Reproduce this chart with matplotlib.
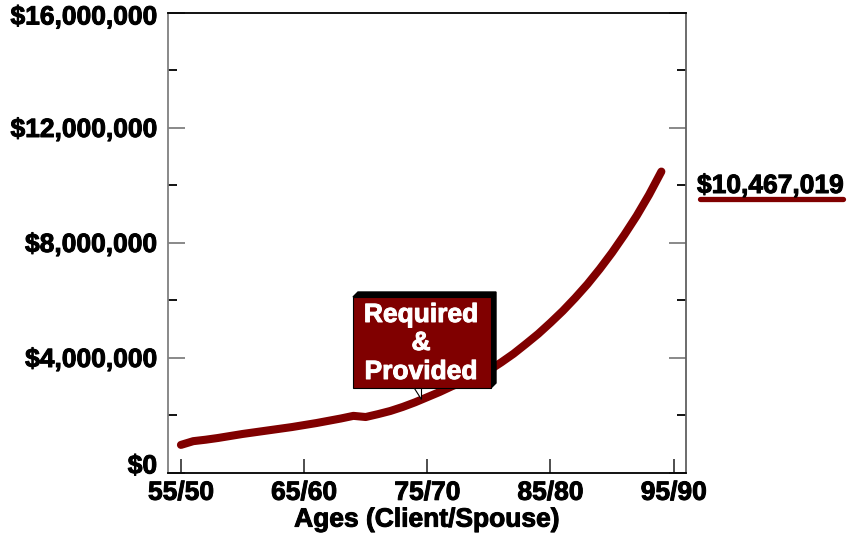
import matplotlib
matplotlib.use("Agg")
import matplotlib.pyplot as plt
import matplotlib.patheffects as pe
from matplotlib.patches import Polygon, Rectangle
from matplotlib.lines import Line2D
from matplotlib.ticker import FuncFormatter, MultipleLocator
from matplotlib.transforms import ScaledTranslation

plt.rcParams['font.family'] = ['Liberation Sans', 'DejaVu Sans']
plt.rcParams['font.weight'] = 'bold'

# eta del cliente (anno per anno) e capitale in milioni
eta = list(range(55, 95))
valori = [0.96, 1.09, 1.14, 1.20, 1.27, 1.34, 1.40, 1.46, 1.52, 1.58,
          1.65, 1.72, 1.80, 1.88, 1.97, 1.93, 2.03, 2.14, 2.28, 2.44,
          2.62, 2.80, 3.00, 3.17, 3.36, 3.55, 3.83, 4.13, 4.47, 4.82,
          5.21, 5.62, 6.07, 6.55, 7.08, 7.65, 8.27, 8.93, 9.66, 10.467]
tick_eta = [55, 65, 75, 85, 95]
tick_label = ["55/50", "65/60", "75/70", "85/80", "95/90"]
valore_finale = "$10,467,019"
rosso = "#800000"

W, H = 855, 534
fig = plt.figure(figsize=(W / 100, H / 100), dpi=100)
ax = fig.add_axes([168 / W, 1 - 472.5 / H, (686 - 168) / W, (472.5 - 12.5) / H])

# testo un po' piu' marcato
spesso = [pe.withStroke(linewidth=0.7, foreground='black')]
spesso_bianco = [pe.withStroke(linewidth=0.7, foreground='white')]

# curva del capitale
ax.plot(eta, [v * 1e6 for v in valori], color=rosso, lw=5.8,
        solid_capstyle='round', solid_joinstyle='round')

ax.set_xlim(53.95, 96.0)
ax.set_ylim(0, 16e6)
ax.set_xticks(tick_eta)
ax.set_xticklabels(tick_label)
ax.yaxis.set_major_locator(MultipleLocator(4e6))
ax.yaxis.set_minor_locator(MultipleLocator(2e6))


def fmt(v, p):
    # 0 e 16M vengono scritti a parte, spostati verso l'interno
    if v <= 0 or v >= 16e6:
        return ""
    return f"${v:,.0f}"


ax.yaxis.set_major_formatter(FuncFormatter(fmt))

# spine e tacche
ax.spines['left'].set_color('#808080')
ax.spines['right'].set_color('#606060')
ax.spines['top'].set_color('black')
ax.spines['bottom'].set_color('black')
for s in ax.spines.values():
    s.set_linewidth(1.3)
ax.tick_params(axis='y', which='major', direction='in', length=12, width=1.3,
               color='#808080', right=True, labelsize=19, pad=8)
ax.tick_params(axis='y', which='minor', direction='in', length=6.5, width=1.3,
               color='black', right=True)
ax.tick_params(axis='x', which='major', direction='in', length=10, width=1.3,
               color='#404040', labelsize=19, pad=6)
ax.set_xlabel("Ages (Client/Spouse)", fontsize=19, fontweight='bold', labelpad=2,
              path_effects=spesso)

for lab in ax.get_xticklabels() + ax.get_yticklabels():
    lab.set_path_effects(spesso)

ytr = ax.get_yaxis_transform()
for v, dy in [(0, 6), (16e6, -5)]:
    tr = ytr + ScaledTranslation(-11 / 100, dy / 100, fig.dpi_scale_trans)
    ax.text(0, v, f"${v:,.0f}", transform=tr, fontsize=19, fontweight='bold',
            ha='right', va='center', path_effects=spesso, clip_on=False)


def px(x, y):
    return (x / W, 1 - y / H)


# riquadro "Required & Provided" con ombra 3D
ombra = Polygon([px(353, 297), px(358, 292), px(496, 292), px(496, 383),
                 px(491, 388), px(491, 297)], closed=True,
                facecolor='black', edgecolor='black', transform=fig.transFigure)
fig.patches.append(ombra)
x0, y0 = px(353, 388)
x1, y1 = px(491, 297)
fig.patches.append(Rectangle((x0, y0), x1 - x0, y1 - y0, facecolor=rosso,
                             edgecolor='black', lw=0.8, transform=fig.transFigure))
fig.patches.append(Polygon([px(414, 388), px(421, 388), px(421, 399)], closed=True,
                           facecolor='white', edgecolor='black', lw=0.8,
                           transform=fig.transFigure))
for testo, yy in [("Required", 315), ("&", 343), ("Provided", 372)]:
    fig.text(*px(421, yy), testo, color='white', fontsize=19, fontweight='bold',
             ha='center', va='center', path_effects=spesso_bianco)

# valore finale a destra
fig.text(*px(697, 186), valore_finale, fontsize=19, fontweight='bold',
         ha='left', va='center', path_effects=spesso)
fig.lines.append(Line2D([700 / W, 843 / W], [1 - 199 / H, 1 - 199 / H], color=rosso,
                        lw=3.8, solid_capstyle='round', transform=fig.transFigure))

fig.savefig("out.png", dpi=100)
